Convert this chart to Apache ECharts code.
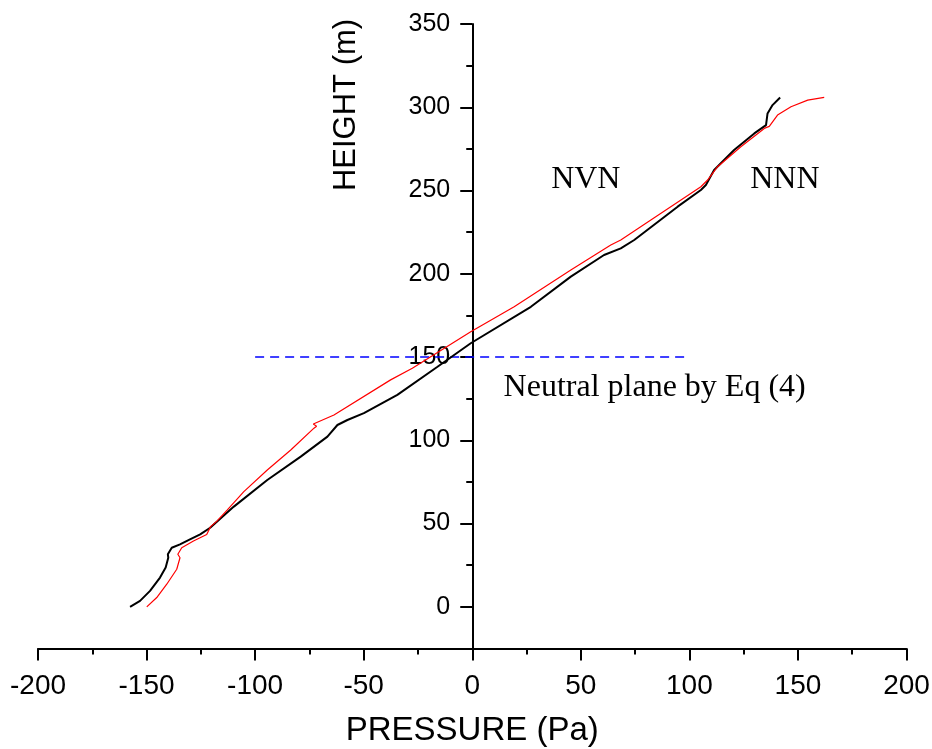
<!DOCTYPE html>
<html>
<head>
<meta charset="utf-8">
<script src="https://cdn.jsdelivr.net/npm/echarts@6/dist/echarts.min.js"></script>
<style>
html,body{margin:0;padding:0;background:#fff;}
#chart{width:932px;height:749px;}
</style>
</head>
<body>
<div id="chart"></div>
<script>
// ---- data ----
var blackPressure = [-157.6,-153,-148.4,-143.8,-141.2,-140,-140.2,-138.4,-134.6,-130,-125.3,-120.7,-109.8,-94.4,-79,-66.7,-62.1,-57.5,-49.9,-34.5,-16,-0.7,27,45.4,60.7,68.4,74.6,94.6,105.3,107.6,111.4,120.6,129.9,135.3,136,138.3,141.8];
var blackHeight   = [0,3.6,9.6,17.6,23.6,29.5,31.6,35.5,37.5,40.5,43.5,47.5,60.2,76.2,90.2,102.2,109.2,112.2,116.3,127.3,144.2,158.3,180.2,198.3,211.3,215.3,220.3,240.3,250.3,253.3,262.3,274.3,284.3,289.3,296.3,301.3,305.9];
var redPressure = [-149.9,-145.3,-140.7,-136.1,-134.6,-135.6,-133.8,-133.5,-128.4,-122.3,-120.5,-117.6,-112.8,-105.2,-94.4,-83.6,-72.9,-71.7,-73.2,-63.7,-37.6,-27.6,-0.7,3.9,19.3,45.4,63.8,68.4,105.3,108.4,113,123.7,134.5,136.8,140.6,146.8,154.5,162.1];
var redHeight   = [0,5.6,13.6,22.6,29.5,31.6,35.5,36.5,39.5,43.5,48.2,51.5,58.2,69.2,82.2,94.2,107.3,108.5,109.8,115.2,136.3,143.3,165.2,168.7,180.2,202.3,217.3,220.3,252.3,256.3,264.3,276.3,287.3,288.5,295.3,300.3,304.3,305.9];
var neutralPressure = [-100, 100];
var neutralHeight = [150, 150];
var xTicks = [-200,-150,-100,-50,0,50,100,150,200];
var yMajorTicks = [0,50,100,150,200,250,300,350];
var yMinorTicks = [25,75,125,175,225,275,325];
var annotations = [
  {text:'NVN', p:52.3, h:256.3},
  {text:'NNN', p:144, h:256.3},
  {text:'Neutral plane by Eq (4)', p:84, h:131.5}
];

function zip(a,b){var r=[];for(var i=0;i<a.length;i++)r.push([a[i],b[i]]);return r;}

var chart = echarts.init(document.getElementById('chart'), null, {renderer:'canvas'});
var sans = "'Liberation Sans',Arial,sans-serif";
var serif = "'Liberation Serif','Times New Roman',serif";
var gridLeft = 38, gridRight = 25.5, chartW = 932;
var plotW = chartW - gridLeft - gridRight;
var zeroOffset = -plotW * (0 - (-200)) / 400; // move y axis to x = 0

var option = {
  backgroundColor:'#fff',
  animation:false,
  grid:{left:gridLeft, right:gridRight, top:24, bottom:100.5, containLabel:false, outerBoundsMode:'none'},
  xAxis:{
    type:'value', min:-200, max:200, interval:50,
    name:'PRESSURE (Pa)', nameLocation:'middle', nameGap:66,
    nameTextStyle:{fontFamily:sans, fontSize:33, color:'#000'},
    axisLine:{show:true, onZero:false, lineStyle:{color:'#000', width:2}},
    axisTick:{show:true, length:12, lineStyle:{color:'#000', width:2}},
    minorTick:{show:true, splitNumber:2, length:6, lineStyle:{color:'#000', width:2}},
    axisLabel:{fontFamily:sans, fontSize:28, color:'#000', margin:24, customValues:xTicks,
      hideOverlap:false},
    splitLine:{show:false}
  },
  yAxis:[{
    type:'value', min:-25, max:350, interval:25, position:'left', offset:zeroOffset,
    axisLine:{show:true, onZero:false, lineStyle:{color:'#000', width:2}},
    axisTick:{show:true, length:12, customValues:yMajorTicks, lineStyle:{color:'#000', width:2}},
    axisLabel:{fontFamily:sans, fontSize:25, color:'#000', margin:22, customValues:yMajorTicks},
    splitLine:{show:false}
  },{
    type:'value', min:-25, max:350, interval:25, position:'left', offset:zeroOffset,
    axisLine:{show:false, onZero:false},
    axisTick:{show:true, length:6, customValues:yMinorTicks, lineStyle:{color:'#000', width:2}},
    axisLabel:{show:false},
    splitLine:{show:false}
  }],
  graphic:[{
    type:'text', x:346, y:105, rotation:Math.PI/2,
    style:{text:'HEIGHT (m)', fontFamily:sans, fontSize:31, fill:'#000', align:'center', verticalAlign:'middle'}
  }],
  series:[
    {type:'line', name:'black', data:zip(blackPressure,blackHeight), showSymbol:false, symbol:'none',
     lineStyle:{color:'#000', width:2}, z:3},
    {type:'line', name:'red', data:zip(redPressure,redHeight), showSymbol:false, symbol:'none',
     lineStyle:{color:'#ff0000', width:1.2}, z:4},
    {type:'line', name:'neutral', data:zip(neutralPressure,neutralHeight), showSymbol:false, symbol:'none',
     lineStyle:{color:'#0000ff', width:1.5, type:[9,6]}, z:2},
    {type:'scatter', name:'labels', symbolSize:0, silent:true,
     itemStyle:{opacity:1},
     data:annotations.map(function(a){return {value:[a.p,a.h], label:{show:true, formatter:a.text}};}),
     label:{show:true, position:'inside', fontFamily:serif, fontSize:32, color:'#000', opacity:1}, z:5}
  ]
};
chart.setOption(option);
</script>
</body>
</html>
